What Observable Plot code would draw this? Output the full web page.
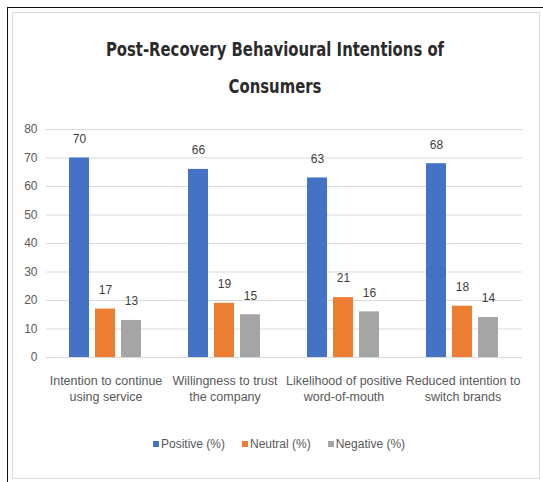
<!DOCTYPE html>
<html>
<head>
<meta charset="utf-8">
<script src="https://cdn.jsdelivr.net/npm/d3@7"></script>
<script src="https://cdn.jsdelivr.net/npm/@observablehq/plot@0.6"></script>
<style>
  html, body { margin: 0; padding: 0; background: #fff; }
  body { width: 543px; height: 482px; position: relative; overflow: hidden; font-family: "Liberation Sans", Arial, sans-serif; }
  #frame { position: absolute; left: 7px; top: 7px; width: 540px; height: 480px; border-top: 1px solid #111; border-left: 1px solid #111; }
  #card { position: absolute; left: 12px; top: 12px; width: 526px; height: 465px; border: 1px solid #dcdcdc; background: #fff; }
  #title { position: absolute; left: 75px; width: 400px; top: 31px; text-align: center; font-family: "DejaVu Sans Condensed", "Liberation Sans Narrow", sans-serif; font-weight: bold; font-size: 16.5px; line-height: 31px; color: #2b2b2b; transform: scaleY(1.2); transform-origin: top center; }
  #chart { position: absolute; left: 0; top: 110px; }
  #legend { position: absolute; left: 153px; top: 437px; display: flex; gap: 17px; align-items: center; font-size: 12px; color: #595959; white-space: nowrap; }
  #legend .item { display: flex; align-items: center; }
  #legend .sw { display: inline-block; width: 6px; height: 6px; margin-right: 2px; }
</style>
</head>
<body>
<div id="frame"></div>
<div id="card"></div>
<div id="title">Post-Recovery Behavioural Intentions of<br>Consumers</div>
<div id="chart"></div>
<div id="legend"></div>
<script>
// Categories (two-line labels) and the three response series
const categories = [
  "Intention to continue\nusing service",
  "Willingness to trust\nthe company",
  "Likelihood of positive\nword-of-mouth",
  "Reduced intention to\nswitch brands"
];
const seriesNames = ["Positive (%)", "Neutral (%)", "Negative (%)"];
const positive = [70, 66, 63, 68];
const neutral = [17, 19, 21, 18];
const negative = [13, 15, 16, 14];
const seriesColors = ["#4472C4", "#ED7D31", "#A5A5A5"];
const yTicks = [0, 10, 20, 30, 40, 50, 60, 70, 80];

const seriesValues = [positive, neutral, negative];
const rows = [];
categories.forEach((category, i) => {
  seriesNames.forEach((series, j) => {
    rows.push({category, series, value: seriesValues[j][i]});
  });
});

const chart = Plot.plot({
  width: 543,
  height: 300,
  marginTop: 19,
  marginBottom: 53,
  marginLeft: 44,
  marginRight: 20,
  style: {background: "transparent", fontFamily: "Liberation Sans, Arial, sans-serif"},
  fx: {domain: categories, padding: 0, label: null},
  x: {domain: seriesNames, paddingInner: 0.23, paddingOuter: 0.86, axis: null},
  y: {domain: [0, 80], label: null},
  color: {domain: seriesNames, range: seriesColors},
  marks: [
    Plot.gridY(yTicks, {stroke: "#d9d9d9", strokeOpacity: 1}),
    Plot.axisY(yTicks, {tickSize: 0, tickPadding: 9, fontSize: 12, fill: "#595959", label: null}),
    Plot.axisFx({anchor: "bottom", tickSize: 0, tickPadding: 16, fontSize: 12.5, lineHeight: 1.3, fill: "#595959", label: null}),
    Plot.barY(rows, {fx: "category", x: "series", y: "value", fill: "series"}),
    Plot.text(rows, {fx: "category", x: "series", y: "value", text: d => String(d.value), dy: -19, fontSize: 12, fill: "#404040"})
  ]
});
document.getElementById("chart").appendChild(chart);

// Legend under the chart
const legend = document.getElementById("legend");
seriesNames.forEach((name, i) => {
  const item = document.createElement("span");
  item.className = "item";
  const sw = document.createElement("span");
  sw.className = "sw";
  sw.style.background = seriesColors[i];
  item.appendChild(sw);
  item.appendChild(document.createTextNode(name));
  legend.appendChild(item);
});
</script>
</body>
</html>
